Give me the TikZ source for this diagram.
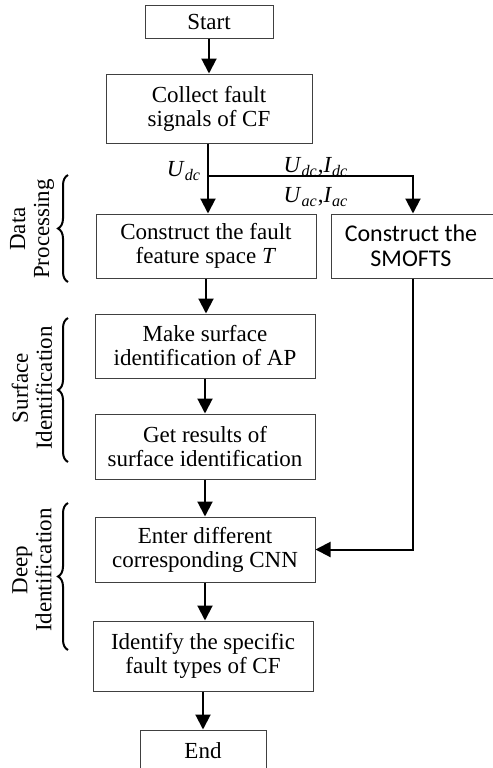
\documentclass[tikz,border=0pt]{standalone}
\usepackage{fontspec}
\setmainfont{Liberation Serif}
\newfontfamily\boxsans{Carlito}
\usetikzlibrary{arrows.meta,decorations.pathreplacing}
\newcommand\sig[2]{\textit{#1}\textsubscript{\textit{#2}}}
\begin{document}
\begin{tikzpicture}[x=0.5pt,y=-0.5pt,
  font=\fontsize{11.5}{12}\selectfont,
  box/.style={draw=black!75,line width=0.5pt,align=center,inner sep=0pt},
  arr/.style={line width=1pt,-{Triangle[width=7.5pt,length=7.5pt]}},
  brace/.style={decorate,decoration={brace,amplitude=5pt},line width=1pt},
  phase/.style={rotate=90,align=center}]
  \useasboundingbox (0,0) rectangle (493,768);
  \node[box,minimum width=64pt,minimum height=16.5pt] (start) at (209,21.5) {Start};
  \node[box,minimum width=103pt,minimum height=34.5pt] (collect) at (209,108.5) {Collect fault\\signals of CF};
  \node[box,minimum width=110pt,minimum height=32pt] (feature) at (206,246) {Construct the fault\\feature space \textit{T}};
  \node[box,minimum width=86pt,minimum height=32pt,font=\boxsans\fontsize{12}{12.5}\selectfont] (smofts) at (417,246) {\hspace*{-6pt}Construct the\\\hspace*{-6pt}SMOFTS};
  \node[box,minimum width=110pt,minimum height=32pt] (surface) at (205,346) {Make surface\\identification of AP};
  \node[box,minimum width=110pt,minimum height=32.5pt] (results) at (205,446.5) {Get results of\\surface identification};
  \node[box,minimum width=110pt,minimum height=32.5pt] (enter) at (205,549.5) {Enter different\\corresponding CNN};
  \node[box,minimum width=110pt,minimum height=35pt] (identify) at (203,656) {Identify the specific\\fault types of CF};
  \node[box,minimum width=63pt,minimum height=21pt] (finish) at (203,751) {End};
  \coordinate (split) at (208,176);
  \coordinate (side) at (413,176);
  \draw[arr] (start.south) -- (start.south |- collect.north);
  \draw[line width=1pt] (collect.south -| split) -- (split);
  \draw[arr] (split) -- (split |- feature.north);
  \draw[arr] (split) -- (side) -- (side |- smofts.north);
  \draw[arr] (side |- smofts.south) |- (enter.east);
  \draw[arr] (feature.south) -- (feature.south |- surface.north);
  \draw[arr] (surface.south) -- (surface.south |- results.north);
  \draw[arr] (results.south) -- (results.south |- enter.north);
  \draw[arr] (enter.south) -- (enter.south |- identify.north);
  \draw[arr] (identify.south) -- (identify.south |- finish.north);
  \node (udc) at (184,171) {\sig{U}{dc}};
  \node (dcpair) at (316,167) {\sig{U}{dc},\sig{I}{dc}};
  \node (acpair) at (316,197) {\sig{U}{ac},\sig{I}{ac}};
  \draw[brace] (68,282) -- (68,175);
  \draw[brace] (68,462) -- (68,318);
  \draw[brace] (68,650) -- (68,503);
  \node[phase] (dp) at (32,229) {Data\\Processing};
  \node[phase] (si) at (32,388) {Surface\\Identification};
  \node[phase] (di) at (32,570) {Deep\\Identification};
\end{tikzpicture}
\end{document}
